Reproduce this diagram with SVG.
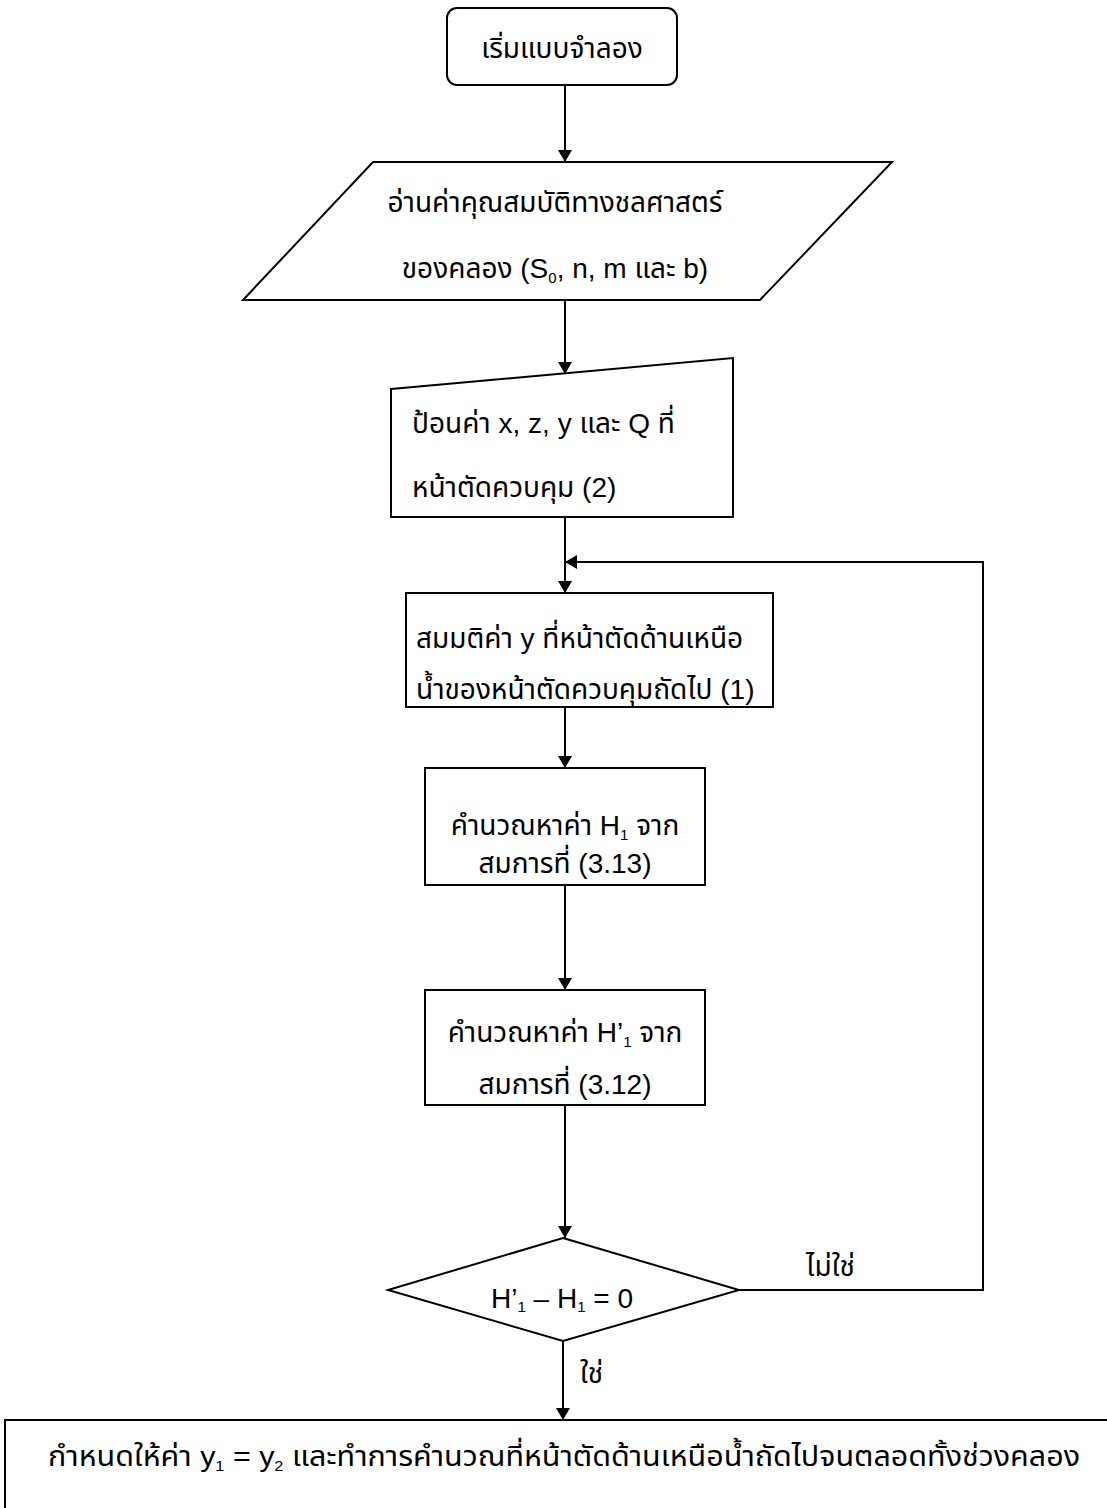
<svg xmlns="http://www.w3.org/2000/svg" width="1107" height="1508" viewBox="0 0 1107 1508">
<style>
.s{fill:#fff;stroke:#000;stroke-width:2}
.c{fill:none;stroke:#000;stroke-width:2}
text{font-family:"Liberation Sans","Noto Sans Thai","Noto Sans",sans-serif;font-size:28px;fill:#000}
.m{text-anchor:middle}
.sub{font-size:15px}
</style>
<defs>
<marker id="a" viewBox="0 0 12 14" refX="12" refY="7" markerWidth="12" markerHeight="14" markerUnits="userSpaceOnUse" orient="auto">
<path d="M0,0 L12,7 L0,14 Z" fill="#000"/>
</marker>
</defs>
<g id="connectors">
<path class="c" d="M565,85 V162" marker-end="url(#a)"/>
<path class="c" d="M565,300 V374" marker-end="url(#a)"/>
<path class="c" d="M565,517 V593" marker-end="url(#a)"/>
<path class="c" d="M565,707 V768" marker-end="url(#a)"/>
<path class="c" d="M565,885 V990" marker-end="url(#a)"/>
<path class="c" d="M565,1105 V1238" marker-end="url(#a)"/>
<path class="c" d="M739,1290 H983 V562 H565" marker-end="url(#a)"/>
<path class="c" d="M563,1341 V1420" marker-end="url(#a)"/>
<text x="806" y="1276">ไม่ใช่</text>
<text x="580" y="1383">ใช่</text>
</g>
<g id="start">
<rect class="s" x="447" y="8" width="230" height="77" rx="10"/>
<text class="m" x="562" y="58">เริ่มแบบจำลอง</text>
</g>
<g id="read">
<polygon class="s" points="373,162 892,162 760,300 243,300"/>
<text class="m" x="555" y="212">อ่านค่าคุณสมบัติทางชลศาสตร์</text>
<text class="m" x="555" y="278">ของคลอง (S<tspan class="sub" dy="5">0</tspan><tspan dy="-5">, n, m และ b)</tspan></text>
</g>
<g id="input">
<polygon class="s" points="391,389 733,358 733,517 391,517"/>
<text x="412" y="433">ป้อนค่า x, z, y และ Q ที่</text>
<text x="412" y="497">หน้าตัดควบคุม (2)</text>
</g>
<g id="assume">
<rect class="s" x="406" y="593" width="367" height="114"/>
<text x="416" y="648">สมมติค่า y ที่หน้าตัดด้านเหนือ</text>
<text x="416" y="699">น้ำของหน้าตัดควบคุมถัดไป (1)</text>
</g>
<g id="calcH1">
<rect class="s" x="425" y="768" width="280" height="117"/>
<text class="m" x="565" y="835">คำนวณหาค่า H<tspan class="sub" dy="5">1</tspan><tspan dy="-5"> จาก</tspan></text>
<text class="m" x="565" y="873">สมการที่ (3.13)</text>
</g>
<g id="calcH1p">
<rect class="s" x="425" y="990" width="280" height="115"/>
<text class="m" x="565" y="1042">คำนวณหาค่า H’<tspan class="sub" dy="5">1</tspan><tspan dy="-5"> จาก</tspan></text>
<text class="m" x="565" y="1094">สมการที่ (3.12)</text>
</g>
<g id="decision">
<polygon class="s" points="563,1238 739,1290 563,1341 388,1290"/>
<text class="m" x="562" y="1308">H’<tspan class="sub" dy="4">1</tspan><tspan dy="-4"> – H</tspan><tspan class="sub" dy="4">1</tspan><tspan dy="-4"> = 0</tspan></text>
</g>
<g id="finish">
<rect class="s" x="5" y="1420" width="1120" height="120"/>
<text x="48" y="1466" textLength="1032" lengthAdjust="spacingAndGlyphs">กำหนดให้ค่า y<tspan class="sub" dy="5">1</tspan><tspan dy="-5"> = y</tspan><tspan class="sub" dy="5">2</tspan><tspan dy="-5"> และทำการคำนวณที่หน้าตัดด้านเหนือน้ำถัดไปจนตลอดทั้งช่วงคลอง</tspan></text>
</g>
</svg>
